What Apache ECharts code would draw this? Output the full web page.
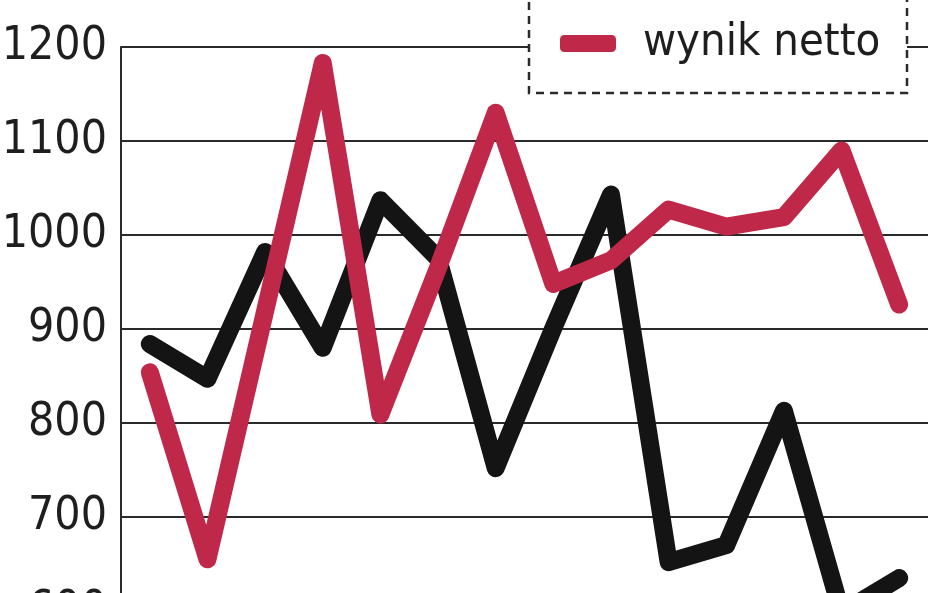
<!DOCTYPE html>
<html>
<head>
<meta charset="utf-8">
<script src="https://cdn.jsdelivr.net/npm/echarts@6/dist/echarts.min.js"></script>
<style>
html,body{margin:0;padding:0;background:#fff;}
#c{width:948px;height:593px;}
</style>
</head>
<body>
<div id="c"></div>
<script>
const categories = ['1','2','3','4','5','6','7','8','9','10','11','12','13','14'];
const seriesBlackName = 'seria 2';
const seriesBlack = [884, 847, 982, 880, 1037, 975, 752, 901, 1043, 652, 670, 813, 598, 635];
const seriesRedName = 'wynik netto';
const seriesRed = [854, 655, 919, 1183, 809, 965, 1130, 948, 973, 1027, 1009, 1019, 1090, 926];
const yTicks = [600, 700, 800, 900, 1000, 1100, 1200];

const FONT = "'Liberation Sans Narrow', 'DejaVu Sans Condensed', 'Roboto', sans-serif";
const chart = echarts.init(document.getElementById('c'));
chart.setOption({
  animation: false,
  backgroundColor: '#fff',
  grid: { left: 121, width: 807, top: 47, height: 564, containLabel: false, outerBoundsMode: 'none' },
  xAxis: {
    type: 'category',
    data: categories,
    boundaryGap: true,
    axisLine: { show: false },
    axisTick: { show: false },
    axisLabel: { show: false },
    splitLine: { show: false }
  },
  yAxis: {
    type: 'value',
    min: yTicks[0],
    max: yTicks[yTicks.length - 1],
    interval: 100,
    axisLine: { show: true, lineStyle: { color: '#2a2a2a', width: 2 } },
    axisTick: { show: false },
    axisLabel: {
      color: '#1e1e1e', fontSize: 46, fontFamily: FONT, margin: 14,
      formatter: function (v) { return String(v); }
    },
    splitLine: { show: true, lineStyle: { color: '#2a2a2a', width: 2 } }
  },
  legend: {
    data: [seriesRedName],
    left: 555,
    top: 16,
    z: 30,
    icon: 'roundRect',
    itemWidth: 56,
    itemHeight: 17,
    textStyle: { fontSize: 45, fontFamily: FONT, color: '#1e1e1e', padding: [0, 0, 0, 22] }
  },
  graphic: [{
    type: 'rect',
    z: 20,
    shape: { x: 529, y: -20, width: 378, height: 113 },
    style: { fill: '#fff', stroke: '#2a2a2a', lineWidth: 2.5, lineDash: [8, 6] }
  }],
  series: [
    {
      name: seriesBlackName,
      type: 'line',
      data: seriesBlack,
      symbol: 'none',
      z: 3,
      lineStyle: { color: '#141414', width: 18, cap: 'round', join: 'round' },
      itemStyle: { color: '#141414' }
    },
    {
      name: seriesRedName,
      type: 'line',
      data: seriesRed,
      symbol: 'none',
      z: 4,
      lineStyle: { color: '#bf2848', width: 18, cap: 'round', join: 'round' },
      itemStyle: { color: '#bf2848' }
    }
  ]
});
</script>
</body>
</html>
